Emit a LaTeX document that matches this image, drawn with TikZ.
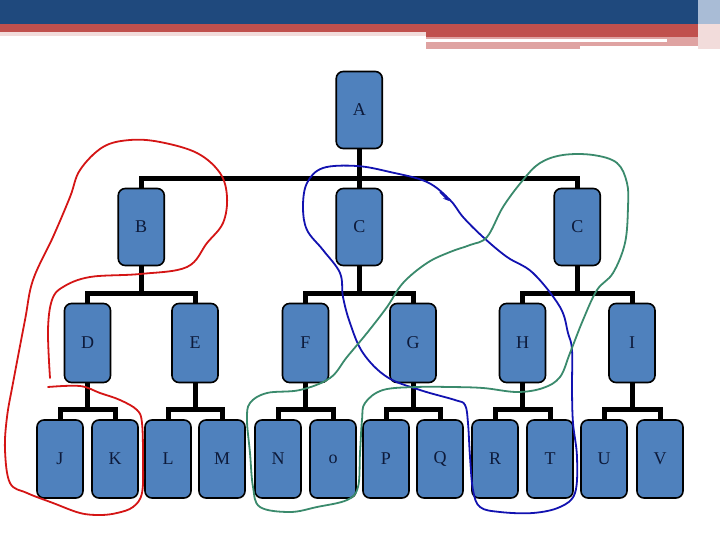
\documentclass[tikz,border=0pt]{standalone}
\usepackage{fontspec}
\setmainfont{Liberation Serif}
\usetikzlibrary{arrows.meta}
\definecolor{nodeblue}{HTML}{4F81BD}
\definecolor{bannerblue}{HTML}{1F497D}
\definecolor{bannerred}{HTML}{C0504D}
\definecolor{bannerpink}{HTML}{DFA3A2}
\definecolor{bannerlight}{HTML}{F2DCDB}
\definecolor{bannersky}{HTML}{A9BCD6}
\definecolor{txtnavy}{HTML}{0D1A3A}
\definecolor{penred}{HTML}{D41515}
\definecolor{penblue}{HTML}{1212B0}
\definecolor{pengreen}{HTML}{3A8A6C}
\tikzset{
  box/.style={draw=black, line width=1.6pt, fill=nodeblue, rounded corners=7pt,
    minimum width=46pt, minimum height=77pt, inner sep=0pt,
    font=\fontsize{18}{20}\selectfont, text=txtnavy},
  link/.style={line width=5pt, line join=miter, black},
  pen/.style={line width=1.8pt, line cap=round, line join=round}
}
\begin{document}
\begin{tikzpicture}[x=1pt, y=-1pt]
\useasboundingbox (0,0) rectangle (720,540);
% banner
\fill[bannerblue] (0,0) rectangle (698,24);
\fill[bannersky] (698,0) rectangle (720,24);
\fill[bannerred] (0,24) rectangle (698,32);
\fill[bannerlight] (0,32) rectangle (426,36);
\fill[bannerred] (426,32) rectangle (698,37);
\fill[bannerpink] (426,37) rectangle (698,39);
\fill[bannerpink] (426,42) rectangle (580,49);
\fill[bannerpink] (580,42) rectangle (667,46);
\fill[bannerpink] (667,39) rectangle (698,46);
\fill[bannerlight] (698,24) rectangle (720,49);
% nodes
\node[box] (A) at (359.25,110) {A};
\node[box] (B) at (141.25,227) {B};
\node[box] (C) at (359.25,227) {C};
\node[box] (C2) at (577.25,227) {C};
\node[box, minimum height=79pt] (D) at (87.5,343) {D};
\node[box, minimum height=79pt] (E) at (195,343) {E};
\node[box, minimum height=79pt] (F) at (305.5,343) {F};
\node[box, minimum height=79pt] (G) at (413,343) {G};
\node[box, minimum height=79pt] (H) at (522.5,343) {H};
\node[box, minimum height=79pt] (I) at (632,343) {I};
\foreach \n/\t/\x in {J/J/60,K/K/115,L/L/168,M/M/222,N/N/278,O/o/333,P/P/386,Q/Q/440,R/R/495,T/T/550,U/U/604,V/V/660}
  \node[box, minimum height=78pt] (\n) at (\x,459) {\t};
% connectors
\draw[link] (A.south) -- (C.north);
\draw[link] (B.north) -- ++(0,-9) -| (C2.north);
\foreach \p/\a/\b in {B/D/E, C/F/G, C2/H/I} {
  \draw[link] (\p.south) -- ++(0,29);
  \draw[link] (\a.north) -- ++(0,-9.5) -| (\b.north);
}
\foreach \p/\a/\b in {D/J/K, E/L/M, F/N/O, G/P/Q, H/R/T, I/U/V} {
  \draw[link] (\p.south) -- ++(0,28);
  \draw[link] (\a.north) -- ++(0,-10) -| (\b.north);
}
% red pen
\draw[pen, penred] plot[smooth, tension=0.6] coordinates {
  (50,378) (48,330) (52,300) (63,287) (90,277) (140,274) (187,267) (207,243)
  (223,223) (227,197) (220,173) (197,153) (160,142) (130,140) (103,147)
  (80,170) (70,197) (53,237) (33,280) (25,320) (13,383) (7,417) (5,450)
  (10,483) (27,493) (53,503) (80,513) (100,515) (117,513) (133,507)
  (142,493) (143,460) (142,423) (137,410) (120,400) (100,393) (80,386) (48,387)};
% blue pen
\draw[pen, penblue] plot[smooth cycle, tension=0.6] coordinates {
  (450,200) (427,182) (390,172) (357,166) (323,168) (307,183) (303,207)
  (307,230) (323,250) (340,273) (343,297) (350,323) (363,353) (387,377)
  (420,390) (455,400) (465,405) (468,423) (470,457) (473,490) (480,507)
  (500,512) (533,513) (560,507) (575,493) (577,457) (573,423) (572,390)
  (572,350) (568,333) (560,307) (533,273) (507,257) (483,237) (463,217)};
\draw[penblue, line width=1.5pt, -{Stealth[length=6pt,width=5pt]}] (440,192) -- (449,201);
% green pen
\draw[pen, pengreen] plot[smooth cycle, tension=0.6] coordinates {
  (427,263) (403,283) (387,307) (367,333) (347,357) (330,378) (300,390)
  (267,393) (250,403) (247,420) (250,453) (253,487) (260,507) (290,512)
  (317,507) (347,500) (358,487) (360,453) (362,420) (365,403) (383,390)
  (417,387) (450,387) (483,388) (517,392) (543,388) (560,377) (570,353)
  (583,320) (597,290) (613,273) (625,243) (628,207) (627,183) (617,163)
  (593,155) (563,155) (540,163) (523,180) (503,207) (487,237) (470,245) (450,252)};
\end{tikzpicture}
\end{document}
